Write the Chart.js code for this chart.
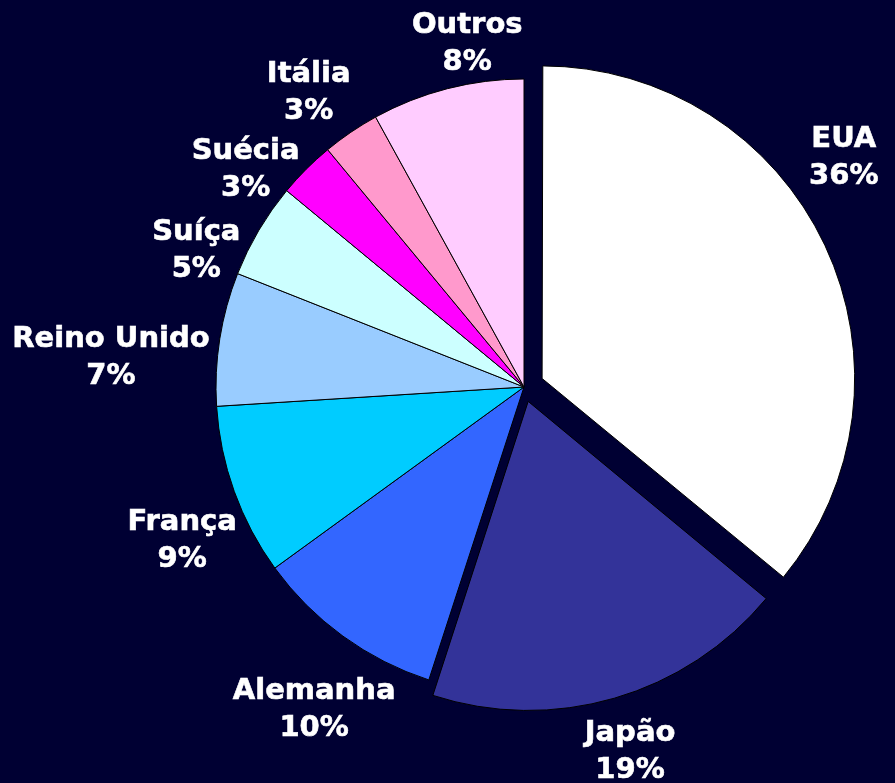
<!DOCTYPE html>
<html>
<head>
<meta charset="utf-8">
<script src="https://cdn.jsdelivr.net/npm/chart.js@4"></script>
<style>
  html, body { margin: 0; padding: 0; background: #000033; }
  #wrap { width: 895px; height: 783px; position: relative; }
</style>
</head>
<body>
<div id="wrap"><canvas id="c" width="895" height="783"></canvas></div>
<script>
const categories = ['EUA', 'Japão', 'Alemanha', 'França', 'Reino Unido', 'Suíça', 'Suécia', 'Itália', 'Outros'];
const shares = [36, 19, 10, 9, 7, 5, 3, 3, 8];
const sliceColors = ['#FFFFFF', '#333399', '#3366FF', '#00CCFF', '#99CCFF', '#CCFFFF', '#FF00FF', '#FF99CC', '#FFCCFF'];
const explode = [80, 60, 0, 0, 0, 0, 0, 0, 0];
// small label-layout nudges (best-fit style): angle in degrees, radial gap in px
const labelNudgeDeg = [-11, 0, -3, -4.5, -5, -8, -7, -2, 5];
const labelNudgeGap = [14, 7, 0, 0, 3, -10, -22, 0, -8];

const labelFont = 'bold 29px "DejaVu Sans", Verdana, sans-serif';
const lineH = 37;

const outsideLabels = {
  id: 'outsideLabels',
  afterDatasetsDraw(chart) {
    const ctx = chart.ctx;
    const meta = chart.getDatasetMeta(0);
    ctx.save();
    ctx.font = labelFont;
    ctx.fillStyle = '#FFFFFF';
    ctx.strokeStyle = '#FFFFFF';
    ctx.lineWidth = 0.6;
    ctx.textAlign = 'center';
    ctx.textBaseline = 'middle';
    meta.data.forEach((arc, i) => {
      const lines = [categories[i], shares[i] + '%'];
      const w = Math.max(...lines.map(t => ctx.measureText(t).width));
      const h = lines.length * lineH;
      const mid = (arc.startAngle + arc.endAngle) / 2;
      const disp = (arc.options.offset || 0) / 4;
      const ox = arc.x + Math.cos(mid) * disp;
      const oy = arc.y + Math.sin(mid) * disp;
      const a = mid + labelNudgeDeg[i] * Math.PI / 180;
      const dx = Math.cos(a), dy = Math.sin(a);
      const d = arc.outerRadius + 2 + labelNudgeGap[i] + Math.abs(dx) * w / 2 + Math.abs(dy) * h / 2;
      const cx = ox + dx * d;
      const cy = oy + dy * d;
      lines.forEach((t, k) => {
        const yy = cy + (k - (lines.length - 1) / 2) * lineH;
        ctx.strokeText(t, cx, yy);
        ctx.fillText(t, cx, yy);
      });
    });
    ctx.restore();
  }
};

new Chart(document.getElementById('c'), {
  type: 'pie',
  data: {
    labels: categories,
    datasets: [{
      data: shares,
      backgroundColor: sliceColors,
      borderColor: '#000000',
      borderWidth: 1,
      offset: explode,
      hoverOffset: 0,
      radius: 308,
      clip: false
    }]
  },
  options: {
    responsive: false,
    animation: false,
    events: [],
    layout: { padding: { left: 153, right: 0, top: 0, bottom: 9 } },
    plugins: {
      legend: { display: false },
      tooltip: { enabled: false }
    }
  },
  plugins: [outsideLabels]
});
</script>
</body>
</html>
